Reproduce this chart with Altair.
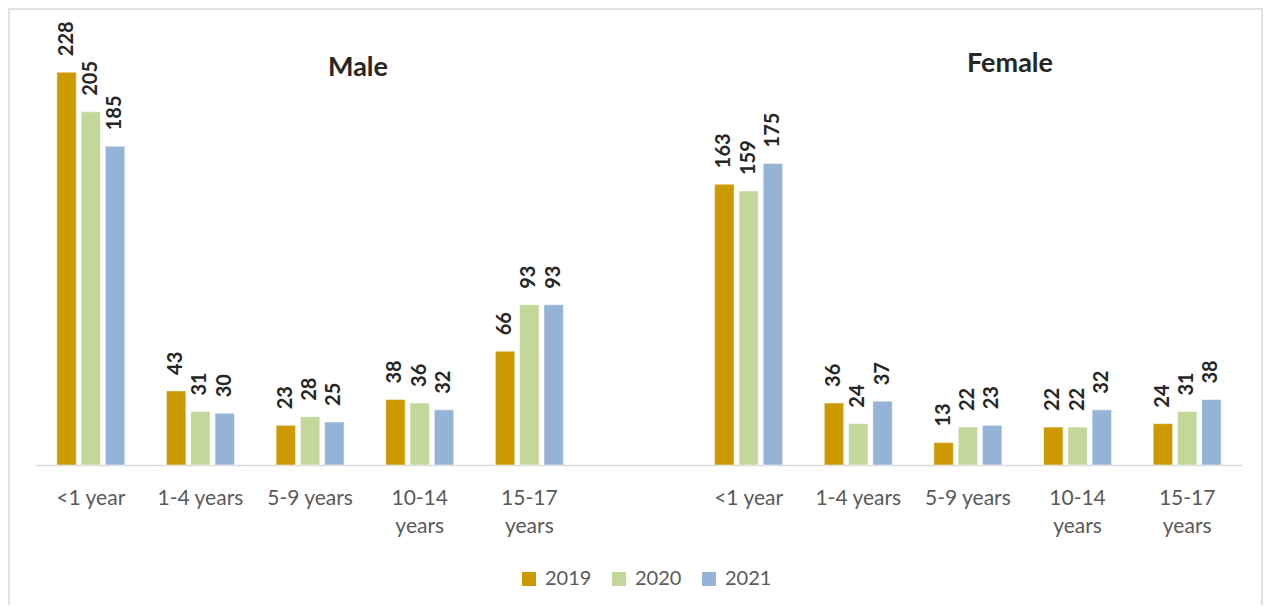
import altair as alt
import pandas as pd

# ---- data ----
age_groups = ["<1 year", "1-4 years", "5-9 years", "10-14|years", "15-17|years"]
years = ["2019", "2020", "2021"]

male_2019 = [228, 43, 23, 38, 66]
male_2020 = [205, 31, 28, 36, 93]
male_2021 = [185, 30, 25, 32, 93]

female_2019 = [163, 36, 13, 22, 24]
female_2020 = [159, 24, 22, 22, 31]
female_2021 = [175, 37, 23, 32, 38]

colors = ["#CC9900", "#C4D79B", "#95B3D7"]

# ---- build table ----
male_keys = ["M|" + a for a in age_groups]
female_keys = ["F|" + a for a in age_groups]
categories = male_keys + ["gap"] + female_keys

rows = []
for keys, series in ((male_keys, [male_2019, male_2020, male_2021]),
                     (female_keys, [female_2019, female_2020, female_2021])):
    for yr, vals in zip(years, series):
        for k, v in zip(keys, vals):
            rows.append({"cat": k, "year": yr, "value": v})
df = pd.DataFrame(rows)

FONT = "Lato"
W, H = 1206, 448

x_enc = alt.X(
    "cat:N",
    sort=categories,
    scale=alt.Scale(domain=categories, paddingInner=0.38, paddingOuter=0.19),
    axis=alt.Axis(
        title=None,
        ticks=False,
        labelAngle=0,
        labelExpr="datum.value == 'gap' ? '' : slice(split(datum.value, '|'), 1)",
        labelFont=FONT,
        labelFontSize=21,
        labelColor="#595959",
        labelPadding=22,
        labelLineHeight=28,
        domainColor="#d9d9d9",
        domainWidth=1.5,
        labelLimit=200,
    ),
)
xo_enc = alt.XOffset("year:N", scale=alt.Scale(paddingInner=0.2))
y_enc = alt.Y("value:Q", scale=alt.Scale(domain=[0, 260]), axis=None)

base = alt.Chart(df)

bars = base.mark_bar(stroke="white", strokeWidth=0.5).encode(
    x=x_enc,
    xOffset=xo_enc,
    y=y_enc,
    color=alt.Color(
        "year:N",
        scale=alt.Scale(domain=years, range=colors),
        legend=alt.Legend(
            title=None,
            orient="none",
            direction="horizontal",
            legendX=483,
            legendY=552,
            symbolType="square",
            symbolSize=196,
            symbolStrokeWidth=0,
            labelFont=FONT,
            labelFontSize=20,
            labelColor="#595959",
            labelOffset=6,
            columnPadding=17,
        ),
    ),
)

labels = base.mark_text(
    angle=270, align="left", baseline="middle", dx=16,
    font=FONT, fontSize=20, fontWeight="bold", color="#262626",
).encode(x=x_enc, xOffset=xo_enc, y=y_enc, text="value:Q")

one = pd.DataFrame({"k": [0]})
title_m = alt.Chart(one).mark_text(
    text="Male", font=FONT, fontSize=27, fontWeight="bold", color="#262626",
    align="center", baseline="alphabetic",
).encode(x=alt.value(322), y=alt.value(59))
title_f = alt.Chart(one).mark_text(
    text="Female", font=FONT, fontSize=27, fontWeight="bold", color="#262626",
    align="center", baseline="alphabetic",
).encode(x=alt.value(974), y=alt.value(55))

border = alt.Chart(one).mark_rect(
    fill=None, stroke="#d9d9d9", strokeWidth=1.5
).encode(x=alt.value(-27), x2=alt.value(1226), y=alt.value(-8), y2=alt.value(700))

chart = (
    alt.layer(border, bars, labels, title_m, title_f)
    .properties(
        width=W,
        height=H,
        autosize=alt.AutoSizeParams(type="none"),
        padding={"left": 28, "top": 9, "right": 21, "bottom": 140},
        background="white",
    )
    .configure_view(stroke=None)
)

chart.save("out.html", embed_options={"renderer": "svg", "actions": False})
